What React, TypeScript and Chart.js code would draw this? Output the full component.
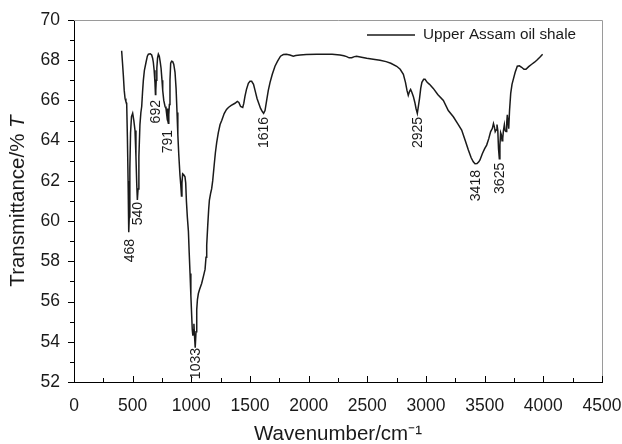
import React, { useEffect, useRef } from "react";
import { Chart, registerables } from "chart.js";

Chart.register(...registerables);

const wavenumber = [
  406, 413, 421, 428, 435, 442, 449, 455, 461, 465, 468, 471, 476, 482, 490, 500, 510, 520, 528, 535,
  540, 546, 553, 562, 570, 577, 584, 591, 600, 614, 625, 634, 650, 662, 670, 676, 683, 690, 694, 697,
  701, 706, 712, 719, 727, 735, 742, 750, 756, 765, 776, 784, 790, 795, 799, 804, 808, 813, 818, 824,
  832, 841, 850, 861, 870, 878, 885, 893, 903, 910, 916, 920, 926, 935, 946, 952, 958, 966, 975, 982,
  989, 996, 1003, 1008, 1013, 1017, 1022, 1027, 1033, 1040, 1046, 1052, 1060, 1070, 1088, 1105, 1117, 1125, 1131, 1140,
  1148, 1154, 1165, 1173, 1182, 1195, 1205, 1216, 1230, 1245, 1259, 1280, 1300, 1316, 1340, 1372, 1392, 1405, 1420, 1438,
  1447, 1457, 1470, 1486, 1500, 1514, 1530, 1543, 1560, 1575, 1590, 1605, 1616, 1628, 1642, 1656, 1671, 1690, 1713, 1735,
  1760, 1784, 1810, 1840, 1869, 1890, 1926, 1980, 2068, 2150, 2200, 2267, 2300, 2324, 2345, 2367, 2390, 2409, 2450, 2495,
  2550, 2608, 2660, 2700, 2750, 2780, 2807, 2825, 2838, 2849, 2860, 2869, 2880, 2892, 2905, 2915, 2926, 2935, 2945, 2955,
  2965, 2980, 2992, 3010, 3030, 3062, 3100, 3148, 3190, 3233, 3270, 3304, 3335, 3361, 3385, 3403, 3418, 3435, 3450, 3460,
  3480, 3500, 3517, 3535, 3551, 3565, 3575, 3582, 3590, 3597, 3605, 3612, 3618, 3625, 3630, 3636, 3642, 3648, 3654, 3660,
  3668, 3675, 3682, 3688, 3693, 3699, 3705, 3712, 3722, 3733, 3744, 3760, 3778, 3796, 3815, 3835, 3852, 3875, 3901, 3925,
  3944, 3970, 3994,
];

const transmittance = [
  68.47, 67.9, 67.2, 66.5, 66.1, 65.95, 65.86, 64.2, 62.0, 60.3, 59.45, 60.2, 62.6, 64.4, 65.2, 65.36, 65.0, 64.5, 63.2, 61.8,
  61.05, 61.6, 63.2, 64.8, 65.4, 65.7, 66.4, 67.0, 67.5, 67.9, 68.2, 68.3, 68.32, 68.26, 68.1, 67.9, 67.5, 66.9, 66.3, 66.5,
  67.0, 67.6, 68.1, 68.3, 68.2, 67.9, 67.6, 67.0, 66.5, 66.0, 65.7, 65.6, 65.3, 65.6, 65.0, 64.86, 65.3, 65.8, 67.0, 67.85,
  67.95, 67.93, 67.8, 67.4, 66.6, 65.4, 64.3, 63.3, 62.3, 61.8, 61.25, 61.9, 62.35, 62.3, 62.2, 61.9, 61.0, 60.2, 59.5, 58.4,
  57.4, 56.3, 55.3, 54.6, 54.3, 54.6, 54.9, 54.3, 53.7, 54.5, 55.6, 56.1, 56.4, 56.6, 56.9, 57.3, 57.6, 58.2, 58.8, 59.8,
  60.6, 61.05, 61.4, 61.6, 62.0, 62.8, 63.4, 63.9, 64.4, 64.8, 65.0, 65.35, 65.55, 65.65, 65.75, 65.86, 65.95, 65.9, 65.7, 65.65,
  65.85, 66.2, 66.55, 66.85, 66.95, 66.95, 66.8, 66.5, 66.1, 65.85, 65.6, 65.45, 65.36, 65.5, 66.0, 66.5, 66.9, 67.3, 67.7, 67.95,
  68.2, 68.28, 68.3, 68.26, 68.2, 68.23, 68.26, 68.28, 68.3, 68.3, 68.3, 68.26, 68.22, 68.18, 68.12, 68.12, 68.18, 68.2, 68.15, 68.1,
  68.05, 68.0, 67.93, 67.85, 67.7, 67.55, 67.3, 66.9, 66.5, 66.25, 66.45, 66.55, 66.4, 66.2, 65.9, 65.6, 65.36, 65.7, 66.1, 66.6,
  66.9, 67.05, 67.05, 66.9, 66.8, 66.6, 66.3, 66.0, 65.5, 65.19, 64.85, 64.53, 64.0, 63.54, 63.15, 62.95, 62.85, 62.86, 62.95, 63.04,
  63.35, 63.6, 63.78, 64.1, 64.45, 64.6, 64.85, 64.7, 64.45, 64.53, 64.8, 64.5, 63.6, 63.1, 63.8, 64.4, 64.3, 64.0, 64.12, 64.5,
  64.8, 64.5, 64.45, 64.9, 65.28, 64.9, 64.6, 65.5, 66.35, 66.8, 67.05, 67.4, 67.7, 67.72, 67.65, 67.55, 67.55, 67.68, 67.8, 67.9,
  68.0, 68.15, 68.3,
];

const peakLabels = ["468", "540", "692", "791", "1033", "1616", "2925", "3418", "3625"];
const peakX = [468, 540, 692, 791, 1033, 1616, 2925, 3418, 3625];
const peakLabelTopY = [59.11, 60.95, 66.02, 64.53, 53.69, 65.18, 65.18, 62.54, 62.9];

const seriesName = "Upper Assam oil shale";
const xTitle = "Wavenumber/cm\u207B\u00B9";
const yTitleMain = "Transmittance/% ";
const yTitleItalic = "T";

const FONT = "'Liberation Sans', Arial, Helvetica, sans-serif";
const INK = "#1a1a1a";
const TITLE_SIZE = 20.5;

const decorPlugin = {
  id: "decor",
  afterDraw(chart: any) {
    const { ctx, chartArea } = chart;
    const xs = chart.scales.x;
    const ys = chart.scales.y;
    ctx.save();
    ctx.strokeStyle = "#9a9a9a";
    ctx.lineWidth = 1;
    ctx.beginPath();
    ctx.moveTo(chartArea.left, chartArea.top + 0.5);
    ctx.lineTo(chartArea.right + 0.5, chartArea.top + 0.5);
    ctx.lineTo(chartArea.right + 0.5, chartArea.bottom);
    ctx.stroke();

    ctx.strokeStyle = "#000";
    ctx.lineWidth = 1;
    ctx.beginPath();
    for (let v = xs.min; v <= xs.max + 0.001; v += 250) {
      const px = Math.round(xs.getPixelForValue(v)) + 0.5;
      const major = Math.abs(v % 500) < 0.001;
      const len = major ? 6 : 4;
      ctx.moveTo(px, chartArea.bottom);
      ctx.lineTo(px, chartArea.bottom - len);
    }
    for (let v = ys.min; v <= ys.max + 0.001; v += 1) {
      const py = Math.round(ys.getPixelForValue(v)) + 0.5;
      const major = Math.abs(v % 2) < 0.001;
      const len = major ? 6 : 4;
      ctx.moveTo(chartArea.left, py);
      ctx.lineTo(chartArea.left - len, py);
    }
    ctx.stroke();

    ctx.fillStyle = INK;
    ctx.font = `14px ${FONT}`;
    for (let i = 0; i < peakLabels.length; i++) {
      const px = xs.getPixelForValue(peakX[i]);
      const py = ys.getPixelForValue(peakLabelTopY[i]);
      ctx.save();
      ctx.translate(px, py);
      ctx.rotate(-Math.PI / 2);
      ctx.textAlign = "right";
      ctx.textBaseline = "middle";
      ctx.fillText(peakLabels[i], 0, 1);
      ctx.restore();
    }

    const ly = chartArea.top + 15;
    const lx = chartArea.right - 235;
    ctx.strokeStyle = INK;
    ctx.lineWidth = 1.3;
    ctx.beginPath();
    ctx.moveTo(lx, ly);
    ctx.lineTo(lx + 48, ly);
    ctx.stroke();
    ctx.font = `15.3px ${FONT}`;
    ctx.textAlign = "left";
    ctx.textBaseline = "middle";
    ctx.fillText(seriesName, lx + 56, ly);

    ctx.font = `${TITLE_SIZE}px ${FONT}`;
    ctx.textAlign = "center";
    ctx.textBaseline = "alphabetic";
    ctx.fillText(xTitle, (chartArea.left + chartArea.right) / 2, 440);

    ctx.save();
    const cy = (chartArea.top + chartArea.bottom) / 2;
    ctx.translate(24, cy);
    ctx.rotate(-Math.PI / 2);
    ctx.font = `${TITLE_SIZE}px ${FONT}`;
    const w1 = ctx.measureText(yTitleMain).width;
    ctx.font = `italic ${TITLE_SIZE}px ${FONT}`;
    const w2 = ctx.measureText(yTitleItalic).width;
    const start = -(w1 + w2) / 2;
    ctx.textAlign = "left";
    ctx.textBaseline = "alphabetic";
    ctx.font = `${TITLE_SIZE}px ${FONT}`;
    ctx.fillText(yTitleMain, start, 0);
    ctx.font = `italic ${TITLE_SIZE}px ${FONT}`;
    ctx.fillText(yTitleItalic, start + w1, 0);
    ctx.restore();

    ctx.restore();
  },
};

export default function App() {
  const ref = useRef<HTMLCanvasElement | null>(null);

  useEffect(() => {
    document.body.style.margin = "0";
    const canvas = ref.current;
    if (!canvas) return;
    const points = wavenumber.map((x, i) => ({ x, y: transmittance[i] }));
    const chart = new Chart(canvas, {
      type: "line",
      data: {
        datasets: [
          {
            label: seriesName,
            data: points,
            borderColor: INK,
            borderWidth: 1.5,
            pointRadius: 0,
            tension: 0,
            fill: false,
          },
        ],
      },
      options: {
        animation: false,
        responsive: false,
        maintainAspectRatio: false,
        layout: { padding: { left: 0, right: 20, top: 20, bottom: 0 } },
        plugins: {
          legend: { display: false },
          tooltip: { enabled: false },
        },
        scales: {
          x: {
            type: "linear",
            min: 0,
            max: 4500,
            grid: { display: false, drawTicks: false },
            border: { display: true, color: "#000", width: 1 },
            ticks: {
              stepSize: 500,
              autoSkip: false,
              maxRotation: 0,
              padding: 14,
              color: INK,
              font: { family: FONT, size: 17.5 },
              callback: (v: any) => String(v),
            },
            afterFit: (scale: any) => {
              scale.height = 62;
              scale.paddingLeft = 0;
              scale.paddingRight = 0;
            },
          },
          y: {
            type: "linear",
            min: 52,
            max: 70,
            grid: { display: false, drawTicks: false },
            border: { display: true, color: "#000", width: 1 },
            ticks: {
              stepSize: 2,
              autoSkip: false,
              padding: 14,
              color: INK,
              font: { family: FONT, size: 17.5 },
              callback: (v: any) => String(v),
            },
            afterFit: (scale: any) => {
              scale.width = 74;
              scale.paddingTop = 0;
              scale.paddingBottom = 0;
            },
          },
        },
      },
      plugins: [decorPlugin],
    });
    return () => chart.destroy();
  }, []);

  return (
    <div style={{ width: 622, height: 444 }}>
      <canvas ref={ref} width={622} height={444} style={{ width: 622, height: 444, display: "block" }} />
    </div>
  );
}
